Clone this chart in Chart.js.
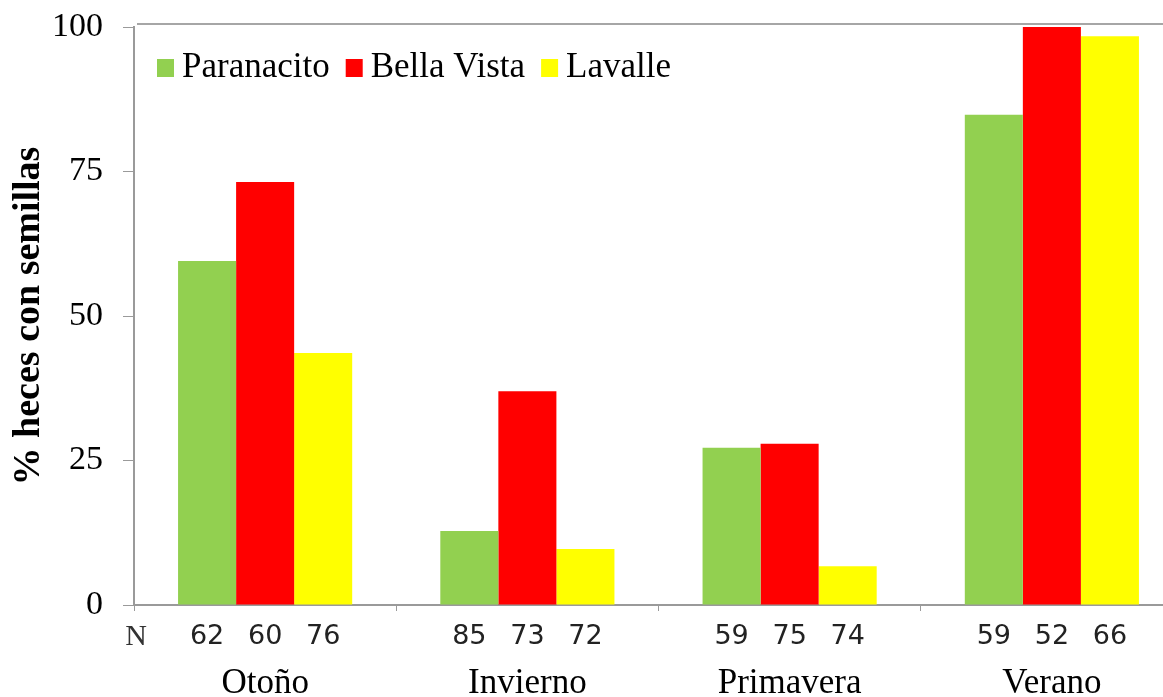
<!DOCTYPE html>
<html lang="es">
<head>
    <meta charset="UTF-8">
    <title>% heces con semillas</title>
    <script src="https://cdn.jsdelivr.net/npm/chart.js"></script>
    <style>
        html, body { margin: 0; padding: 0; overflow: hidden; background: #fff; }
        #wrap { width: 1184px; height: 697px; }
    </style>
</head>
<body>
    <div id="wrap"><canvas id="chart" width="1184" height="697"></canvas></div>

    <script>
        // Data
        const seasons = ['Otoño', 'Invierno', 'Primavera', 'Verano'];
        const paranacito = [59.5, 12.8, 27.2, 84.8];
        const bellaVista = [73.2, 37.0, 27.9, 100];
        const lavalle = [43.6, 9.7, 6.7, 98.4];

        // sample sizes (N) printed under each bar
        const nParanacito = [62, 85, 59, 59];
        const nBellaVista = [60, 73, 75, 52];
        const nLavalle = [76, 72, 74, 66];

        const yTicks = [0, 25, 50, 75, 100];

        const serif = "'Liberation Serif', 'Times New Roman', serif";
        const axisGray = '#9a9a9a';

        // draws legend inside the plot, N counts, and top frame line
        const extras = {
            id: 'extras',
            afterDraw(chart) {
                const ctx = chart.ctx;
                const area = chart.chartArea;
                ctx.save();

                // top frame line
                ctx.strokeStyle = '#a6a6a6';
                ctx.lineWidth = 2;
                ctx.beginPath();
                ctx.moveTo(area.left + 3, area.top - 3);
                ctx.lineTo(area.right, area.top - 3);
                ctx.stroke();

                // legend
                ctx.font = '35px ' + serif;
                ctx.textBaseline = 'middle';
                ctx.textAlign = 'left';
                let lx = area.left + 23;
                const ly = 68;
                chart.data.datasets.forEach(ds => {
                    ctx.fillStyle = ds.backgroundColor;
                    ctx.fillRect(lx, ly - 9, 17, 18);
                    lx += 17 + 8;
                    ctx.fillStyle = '#000';
                    ctx.fillText(ds.label, lx, ly);
                    lx += ctx.measureText(ds.label).width + 16;
                });

                // N counts under bars
                const nLists = [nParanacito, nBellaVista, nLavalle];
                ctx.font = "27px 'DejaVu Sans', Verdana, sans-serif";
                ctx.textAlign = 'center';
                ctx.fillStyle = '#222';
                nLists.forEach((list, di) => {
                    const meta = chart.getDatasetMeta(di);
                    meta.data.forEach((bar, i) => {
                        ctx.fillText(String(list[i]), bar.x, 637);
                    });
                });

                ctx.font = '30px ' + serif;
                ctx.fillStyle = '#333';
                ctx.fillText('N', area.left + 2, 637);

                ctx.restore();
            }
        };

        const ctx = document.getElementById('chart').getContext('2d');
        new Chart(ctx, {
            type: 'bar',
            data: {
                labels: seasons,
                datasets: [
                    { label: 'Paranacito', data: paranacito, backgroundColor: '#92D050' },
                    { label: 'Bella Vista', data: bellaVista, backgroundColor: '#FF0000' },
                    { label: 'Lavalle', data: lavalle, backgroundColor: '#FFFF00' }
                ]
            },
            options: {
                responsive: false,
                animation: false,
                layout: { padding: { top: 27, right: 1, left: 0, bottom: 0 } },
                datasets: {
                    bar: { categoryPercentage: 0.664, barPercentage: 1.0, borderWidth: 0 }
                },
                plugins: {
                    legend: { display: false },
                    tooltip: { enabled: false }
                },
                scales: {
                    x: {
                        afterFit(scale) { scale.height = 92; },
                        grid: {
                            drawOnChartArea: false,
                            color: axisGray,
                            tickLength: 6,
                            offset: true
                        },
                        border: { color: axisGray, width: 2 },
                        ticks: {
                            color: '#000',
                            padding: 52,
                            font: { family: serif, size: 35 }
                        }
                    },
                    y: {
                        min: 0,
                        max: 100,
                        afterFit(scale) {
                            scale.width = 134;
                            scale.paddingTop = 0;
                            scale.paddingBottom = 0;
                        },
                        afterBuildTicks(scale) {
                            scale.ticks = yTicks.map(v => ({ value: v }));
                        },
                        grid: {
                            drawOnChartArea: false,
                            color: axisGray,
                            tickLength: 11
                        },
                        border: { color: axisGray, width: 2 },
                        ticks: {
                            color: '#000',
                            padding: 20,
                            font: { family: serif, size: 34 }
                        },
                        title: {
                            display: true,
                            text: '% heces con semillas',
                            color: '#000',
                            padding: { top: 6, bottom: 0 },
                            font: { family: serif, size: 38, weight: 'bold' }
                        }
                    }
                }
            },
            plugins: [extras]
        });
    </script>
</body>
</html>
